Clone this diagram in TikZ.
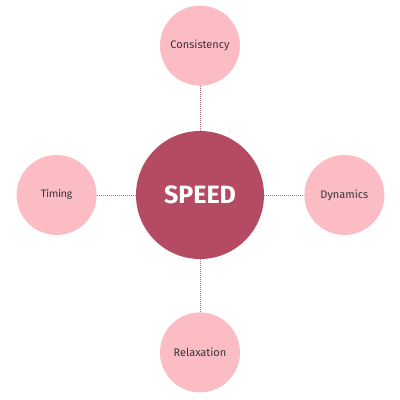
\documentclass[tikz,border=0pt]{standalone}
\usepackage{fontspec}
\setmainfont{Fira Sans}
\newfontfamily\timingfont{Carlito}
\usetikzlibrary{positioning}
\definecolor{speedred}{HTML}{B44B63}
\definecolor{softpink}{HTML}{FBBCC3}
\definecolor{dotred}{HTML}{C2687A}
\definecolor{labelgray}{HTML}{3C3537}

\begin{document}
\begin{tikzpicture}[
    x=1pt, y=-1pt,
    hub/.style={circle, fill=speedred, minimum size=128pt, inner sep=0pt,
        text=white, font=\fontsize{25}{25}\selectfont\bfseries},
    topic/.style={circle, fill=softpink, minimum size=80pt, inner sep=0pt,
        text=labelgray, font=\fontsize{11}{13}\selectfont},
    link/.style={dotred, line width=0.5pt, dash pattern=on 0.8pt off 1.2pt}
]
    \fill[white] (0,0) rectangle (400,400);
    \useasboundingbox (0,0) rectangle (400,400);

    \node[hub] (speed) at (200,195) {SPEED};
    \node[topic, above=45pt of speed] (cons) {Consistency};
    \node[topic, left=39pt of speed] (timing) {\timingfont\fontsize{11.5}{13}\selectfont Timing};
    \node[topic, right=40pt of speed] (dyn) {Dynamics};
    \node[topic, below=53pt of speed] (relax) {Relaxation};

    % dotted spokes
    \draw[link] (speed) -- (cons);
    \draw[link] (speed) -- (timing);
    \draw[link] (speed) -- (dyn);
    \draw[link] (speed) -- (relax);
\end{tikzpicture}
\end{document}
